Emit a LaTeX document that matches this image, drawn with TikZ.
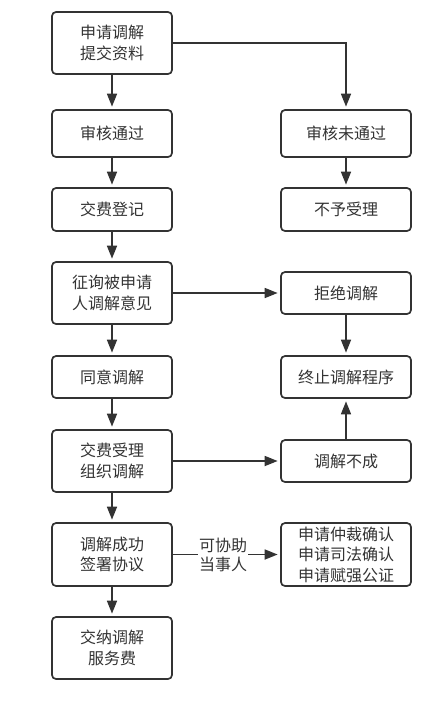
\documentclass[tikz,border=0pt]{standalone}
\usepackage{fontspec}
\setmainfont{Noto Sans CJK SC}
\usetikzlibrary{arrows.meta}
\definecolor{ln}{HTML}{333333}
\begin{document}
\begin{tikzpicture}[x=1pt,y=-1pt,
 box/.style={draw=ln, line width=1.7pt, rounded corners=4pt, align=center,
   font=\fontsize{16}{20.5}\selectfont, text=ln, inner sep=0pt},
 lbox/.style={box, minimum width=120pt},
 rbox/.style={box, minimum width=130pt},
 arr/.style={draw=ln, line width=1.7pt, shorten >=2.5pt, -{Triangle[length=13pt,width=10pt]}},
 lbl/.style={fill=white, inner sep=1pt, align=center, text=ln, font=\fontsize{16}{19.5}\selectfont}]
\useasboundingbox (0,0) rectangle (438,710);
% left column
\node[lbox, minimum height=62pt] (a) at (112,43) {申请调解\\提交资料};
\node[lbox, minimum height=47pt] (b) at (112,133.5) {审核通过};
\node[lbox, minimum height=43pt] (c) at (112,209.5) {交费登记};
\node[lbox, minimum height=62pt] (d) at (112,293) {征询被申请\\人调解意见};
\node[lbox, minimum height=42pt] (e) at (112,377) {同意调解};
\node[lbox, minimum height=62pt] (f) at (112,461) {交费受理\\组织调解};
\node[lbox, minimum height=63pt] (g) at (112,554.5) {调解成功\\签署协议};
\node[lbox, minimum height=62pt] (h) at (112,648) {交纳调解\\服务费};
% right column
\node[rbox, minimum height=47pt] (r1) at (346,133.5) {审核未通过};
\node[rbox, minimum height=43pt] (r2) at (346,209.5) {不予受理};
\node[rbox, minimum height=42pt] (r3) at (346,293) {拒绝调解};
\node[rbox, minimum height=42pt] (r4) at (346,377) {终止调解程序};
\node[rbox, minimum height=42pt] (r5) at (346,461) {调解不成};
\node[rbox, minimum height=63pt] (r6) at (346,554.5) {申请仲裁确认\\申请司法确认\\申请赋强公证};
% connectors
\draw[arr] (a) -- (b);
\draw[arr] (b) -- (c);
\draw[arr] (c) -- (d);
\draw[arr] (d) -- (e);
\draw[arr] (e) -- (f);
\draw[arr] (f) -- (g);
\draw[arr] (g) -- (h);
\draw[arr] (a.east) -| (r1.north);
\draw[arr] (r1) -- (r2);
\draw[arr] (d.east) -- (r3.west);
\draw[arr] (r3) -- (r4);
\draw[arr] (f.east) -- (r5.west);
\draw[arr] (r5) -- (r4);
\draw[arr] (g.east) -- (r6.west);
\node[lbl] (t) at (223,555) {可协助\\当事人};
\end{tikzpicture}
\end{document}
